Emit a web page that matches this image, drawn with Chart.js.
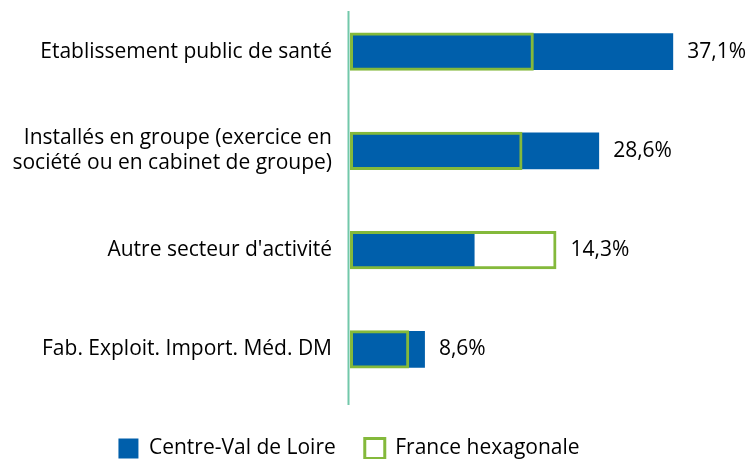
<!DOCTYPE html>
<html><head><meta charset="utf-8">
<script src="https://cdn.jsdelivr.net/npm/chart.js@4/dist/chart.umd.min.js"></script>
<style>html,body{margin:0;padding:0;background:#fff}#wrap{width:749px;height:459px;position:relative}</style>
</head><body><div id="wrap"><canvas id="c"></canvas></div>
<script>
const categories = [
  'Etablissement public de santé',
  ['Installés en groupe (exercice en', 'société ou en cabinet de groupe)'],
  "Autre secteur d'activité",
  'Fab. Exploit. Import. Méd. DM'
];
const centreValues = [37.1, 28.6, 14.3, 8.6];
const franceValues = [21.1, 19.8, 23.7, 6.8];
const seriesNames = ['Centre-Val de Loire', 'France hexagonale'];

const FONT = 'Open Sans';
const FSIZE = 21;
const BLUE = '#005fab';
const GREEN = '#84b93b';
const AXIS = '#72c8aa';

const valueLabels = {
  id: 'valueLabels',
  afterDatasetsDraw(chart) {
    const {ctx, scales: {x, y}} = chart;
    ctx.save();
    ctx.font = FSIZE + 'px "' + FONT + '"';
    ctx.fillStyle = '#000';
    ctx.textAlign = 'left';
    ctx.textBaseline = 'middle';
    centreValues.forEach((v, i) => {
      const end = Math.max(x.getPixelForValue(v), x.getPixelForValue(franceValues[i]));
      ctx.fillText(v.toFixed(1).replace('.', ',') + '%', end + 14, y.getPixelForValue(i));
    });
    ctx.restore();
  }
};
const axisLine = {
  id: 'axisLine',
  afterDatasetsDraw(chart) {
    const {ctx, chartArea} = chart;
    ctx.save();
    ctx.strokeStyle = AXIS;
    ctx.lineWidth = 2;
    ctx.beginPath();
    ctx.moveTo(chartArea.left - 1.5, chartArea.top + 9);
    ctx.lineTo(chartArea.left - 1.5, chartArea.bottom + 6);
    ctx.stroke();
    ctx.restore();
  }
};
const legendShift = {
  id: 'legendShift',
  afterLayout(chart) {
    const lg = chart.legend;
    if (!lg) return;
    lg.left -= 22; lg.right -= 22;
    lg.top += 10; lg.bottom += 10;
  }
};

new Chart(document.getElementById('c'), {
  type: 'bar',
  data: {
    labels: categories,
    datasets: [
      {label: seriesNames[0], data: centreValues, backgroundColor: BLUE, borderWidth: 0,
       grouped: false, barPercentage: 0.37, categoryPercentage: 1, order: 1},
      {label: seriesNames[1], data: franceValues, backgroundColor: 'rgba(255,255,255,0)', borderColor: GREEN,
       borderWidth: 3, borderSkipped: false, grouped: false, barPercentage: 0.385, categoryPercentage: 1, order: 0}
    ]
  },
  options: {
    indexAxis: 'y',
    responsive: true,
    maintainAspectRatio: false,
    animation: false,
    layout: {padding: {top: 2, right: 7, bottom: 0, left: 0}},
    scales: {
      x: {min: 0, max: 45, display: true,
          ticks: {display: false}, grid: {display: false}, border: {display: false},
          afterFit(s) { s.height = 0; }},
      y: {grid: {display: false, drawTicks: false}, border: {display: false},
          ticks: {color: '#000', padding: 18, font: {family: FONT, size: FSIZE, lineHeight: 1.2}},
          afterFit(s) { s.width = 350; s.paddingTop = 0; s.paddingBottom = 0; }}
    },
    plugins: {
      tooltip: {enabled: false},
      legend: {
        position: 'bottom',
        labels: {
          color: '#000', boxWidth: 20, boxHeight: 20, padding: 29,
          font: {family: FONT, size: FSIZE},
          sort: (a, b) => a.datasetIndex - b.datasetIndex,
          generateLabels(chart) {
            return chart.data.datasets.map((d, i) => ({
              text: d.label, datasetIndex: i,
              fillStyle: i === 0 ? BLUE : '#fff',
              strokeStyle: i === 0 ? BLUE : GREEN,
              lineWidth: i === 0 ? 0 : 3,
              fontColor: '#000', hidden: false
            }));
          }
        }
      }
    }
  },
  plugins: [valueLabels, axisLine, legendShift]
});
</script></body></html>
